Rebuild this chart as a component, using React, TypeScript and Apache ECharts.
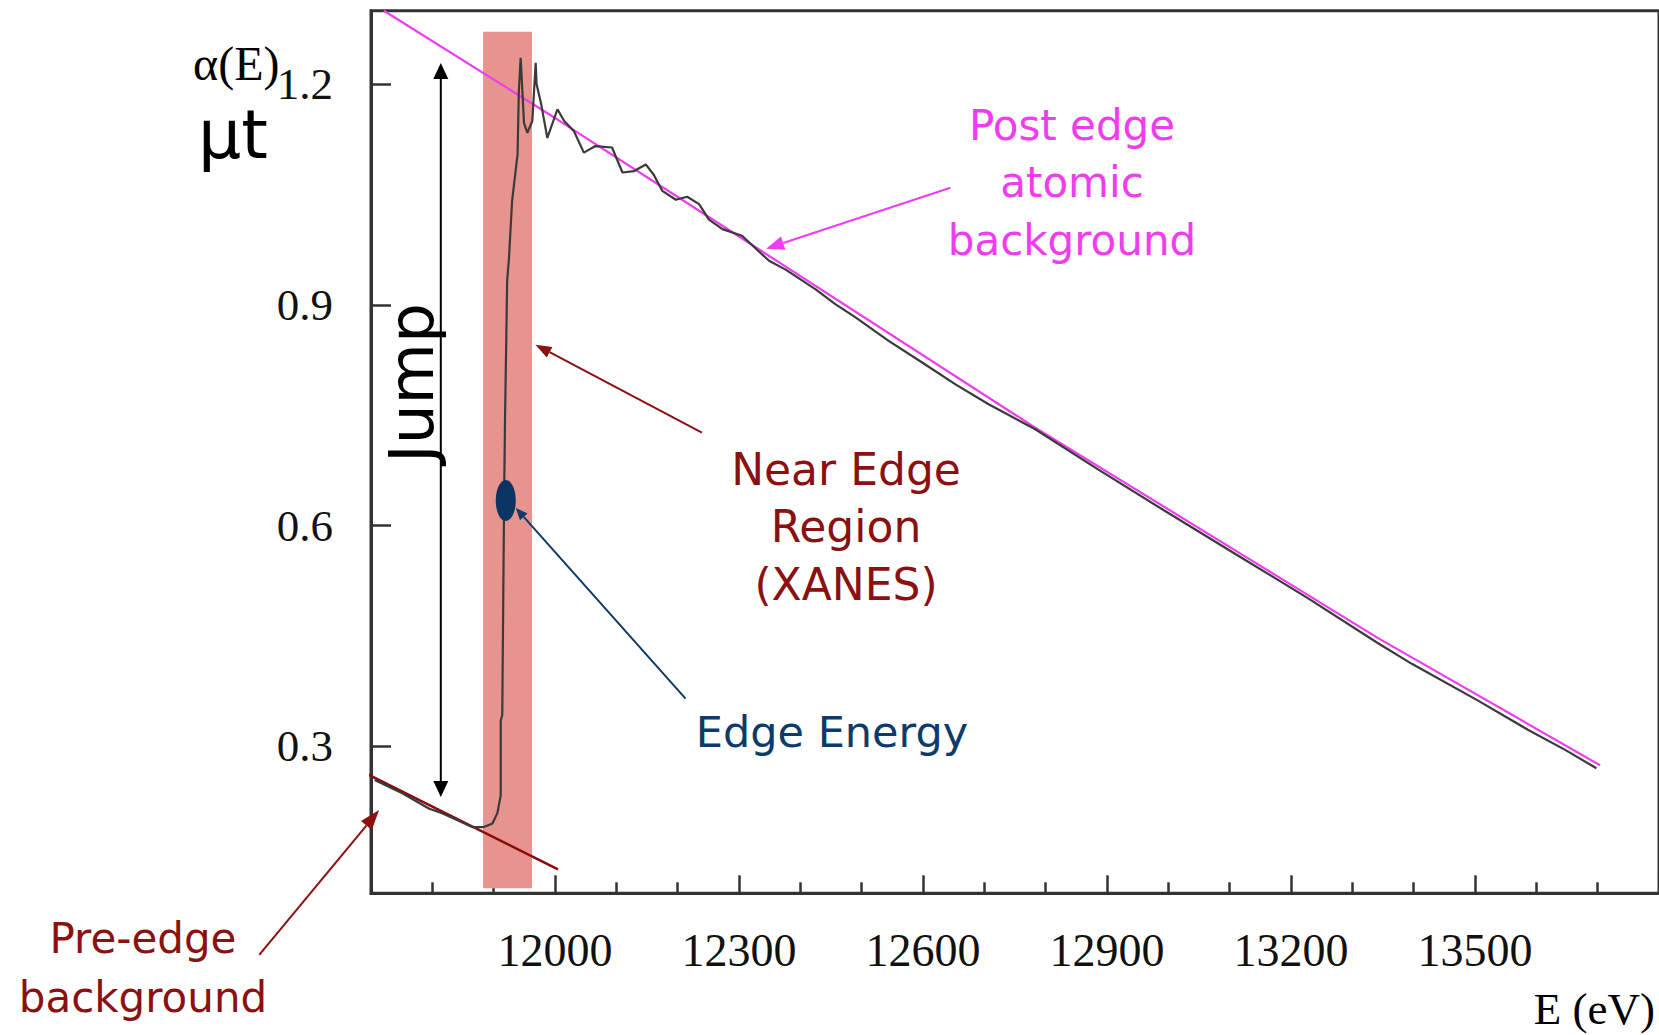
import React, { useEffect, useRef } from "react";
import * as echarts from "echarts";

// ---- measured spectrum (E in eV, mu*t) ----
const energy = [
  11706, 11751, 11795, 11816, 11865, 11884, 11898, 11906, 11911.5, 11911.5,
  11914, 11917, 11918.5, 11922, 11925, 11930, 11939, 11941, 11944, 11949.5,
  11955, 11963, 11968.5, 11970, 11977, 11987.5, 12004, 12015, 12031, 12047,
  12066, 12093, 12110, 12129, 12148, 12161, 12175, 12197, 12215.5, 12235,
  12251, 12273, 12305, 12332, 12349, 12376, 12425, 12457, 12490, 12544,
  12598, 12653, 12707, 12783, 12886, 13000, 13114, 13228, 13342, 13397,
  13505, 13587, 13647, 13698,
];
const absorption = [
  0.254, 0.236, 0.215, 0.209, 0.19, 0.19, 0.195, 0.209, 0.233, 0.335,
  0.342, 0.634, 0.743, 0.933, 0.964, 1.041, 1.105, 1.19, 1.236, 1.147,
  1.134, 1.15, 1.229, 1.2, 1.175, 1.127, 1.166, 1.15, 1.136, 1.107,
  1.116, 1.114, 1.08, 1.082, 1.091, 1.077, 1.055, 1.043, 1.047, 1.037,
  1.016, 1.003, 0.994, 0.973, 0.96, 0.948, 0.921, 0.901, 0.883, 0.851,
  0.822, 0.792, 0.765, 0.731, 0.676, 0.617, 0.559, 0.501, 0.44, 0.412,
  0.362, 0.322, 0.295, 0.27,
];

// ---- post-edge atomic background ----
const postEdgeEnergy = [11721, 12004, 12235, 12783, 13342, 13704];
const postEdgeMu = [1.3, 1.152, 1.028, 0.733, 0.447, 0.274];

// ---- pre-edge background line ----
const preEdgeEnergy = [11683.4, 12004.9];
const preEdgeMu = [0.2664, 0.1326];

// ---- XANES band ----
const xanesEnergy = [11882.7, 11962.5];
const xanesMu = [0.107, 1.2715];

// ---- edge energy marker ----
const edgeEnergyPoint = [11919.7, 0.634];

// ---- axis ticks ----
const xLabelValues = [12000, 12300, 12600, 12900, 13200, 13500];
const yLabelValues = [0.3, 0.6, 0.9, 1.2];

// ---- annotation arrows, in data coordinates [from, to] ----
const jumpArrow = [[11813.8, 0.2311], [11813.8, 1.2289]];
const postEdgeArrow = [[12644.7, 1.0592], [12344.2, 0.9764]];
const nearEdgeArrow = [[12239.5, 0.7262], [11968.1, 0.8458]];
const edgeEnergyArrow = [[12212.9, 0.3647], [11936.0, 0.624]];
const preEdgeArrow = [[11517.8, 0.0162], [11713.3, 0.2131]];

const HAND = "'Comic Sans MS', 'DejaVu Sans', sans-serif";
const SERIF = "'Liberation Serif', 'Times New Roman', serif";
const MAGENTA = "#f03cf0";
const DARKRED = "#8b1010";
const NAVY = "#0b3a6b";

function arrowEls(p1: number[], p2: number[], color: string, width: number, headLen: number, headW: number) {
  const dx = p2[0] - p1[0];
  const dy = p2[1] - p1[1];
  const L = Math.hypot(dx, dy);
  const ux = dx / L;
  const uy = dy / L;
  const bx = p2[0] - ux * headLen;
  const by = p2[1] - uy * headLen;
  const px = -uy;
  const py = ux;
  return [
    { type: "line", z: 100, silent: true, shape: { x1: p1[0], y1: p1[1], x2: bx, y2: by }, style: { stroke: color, lineWidth: width } },
    {
      type: "polygon",
      z: 100,
      silent: true,
      shape: {
        points: [
          [p2[0], p2[1]],
          [bx + (px * headW) / 2, by + (py * headW) / 2],
          [bx - (px * headW) / 2, by - (py * headW) / 2],
        ],
      },
      style: { fill: color },
    },
  ];
}

function headOnly(tip: number[], from: number[], color: string, headLen: number, headW: number) {
  const dx = tip[0] - from[0];
  const dy = tip[1] - from[1];
  const L = Math.hypot(dx, dy);
  const ux = dx / L;
  const uy = dy / L;
  const bx = tip[0] - ux * headLen;
  const by = tip[1] - uy * headLen;
  const px = -uy;
  const py = ux;
  return {
    type: "polygon",
    z: 100,
    silent: true,
    shape: {
      points: [
        [tip[0], tip[1]],
        [bx + (px * headW) / 2, by + (py * headW) / 2],
        [bx - (px * headW) / 2, by - (py * headW) / 2],
      ],
    },
    style: { fill: color },
  };
}

function txt(text: string, x: number, y: number, size: number, color: string, family: string, align = "center", rotation = 0) {
  return {
    type: "text",
    z: 100,
    silent: true,
    x,
    y,
    rotation,
    style: { text, fontSize: size, fontFamily: family, fill: color, align, verticalAlign: "middle" },
  };
}

export default function App() {
  const ref = useRef<HTMLDivElement>(null);
  useEffect(() => {
    if (!ref.current) return;
    const chart = echarts.init(ref.current, undefined, { renderer: "svg" });
    const axisColor = "#333";
    chart.setOption({
      animation: false,
      backgroundColor: "#ffffff",
      grid: {
        left: 371,
        top: 10.7,
        right: -1,
        bottom: 141.7,
        show: true,
        borderColor: axisColor,
        borderWidth: 3,
      },
      xAxis: {
        type: "value",
        min: 11700,
        max: 13800,
        interval: 300,
        axisLine: { show: true, onZero: false, lineStyle: { color: axisColor, width: 3 } },
        axisTick: { show: true, inside: true, length: 18, lineStyle: { color: axisColor, width: 2.5 } },
        minorTick: { show: true, splitNumber: 3, length: 11, lineStyle: { color: axisColor, width: 2.5 } },
        axisLabel: {
          customValues: xLabelValues,
          margin: 34,
          fontSize: 46,
          fontFamily: SERIF,
          color: "#111",
          formatter: (v: number) => String(Math.round(v)),
        },
        splitLine: { show: false },
        minorSplitLine: { show: false },
      },
      yAxis: {
        type: "value",
        min: 0.1,
        max: 1.3,
        axisLine: { show: true, onZero: false, lineStyle: { color: axisColor, width: 3 } },
        axisTick: { show: true, inside: true, length: 20, customValues: yLabelValues, lineStyle: { color: axisColor, width: 2.5 } },
        axisLabel: {
          customValues: yLabelValues,
          margin: 38,
          fontSize: 45,
          fontFamily: SERIF,
          color: "#111",
          formatter: (v: number) => v.toFixed(1),
        },
        splitLine: { show: false },
      },
      series: [
        {
          type: "line",
          name: "band",
          data: [],
          z: 1,
          markArea: {
            silent: true,
            itemStyle: { color: "#e8948e", opacity: 1 },
            data: [[{ coord: [xanesEnergy[0], xanesMu[0]] }, { coord: [xanesEnergy[1], xanesMu[1]] }]],
          },
        },
        {
          type: "line",
          name: "post-edge",
          showSymbol: false,
          z: 3,
          data: postEdgeEnergy.map((e, i) => [e, postEdgeMu[i]]),
          lineStyle: { color: MAGENTA, width: 2.2 },
        },
        {
          type: "line",
          name: "pre-edge",
          showSymbol: false,
          clip: false,
          z: 3,
          data: preEdgeEnergy.map((e, i) => [e, preEdgeMu[i]]),
          lineStyle: { color: "#8b0a0a", width: 2.5 },
        },
        {
          type: "line",
          name: "mu",
          showSymbol: false,
          z: 4,
          data: energy.map((e, i) => [e, absorption[i]]),
          lineStyle: { color: "#3a3a3a", width: 2.2 },
        },
      ],
    });

    const px = (p: number[]) => chart.convertToPixel({ gridIndex: 0 }, p) as number[];
    const j1 = px(jumpArrow[0]);
    const j2 = px(jumpArrow[1]);
    const ep = px(edgeEnergyPoint);
    const graphics: any[] = [
      // Jump double arrow
      { type: "line", z: 100, silent: true, shape: { x1: j1[0], y1: j1[1] - 15, x2: j2[0], y2: j2[1] + 15 }, style: { stroke: "#000", lineWidth: 2 } },
      headOnly(j2, j1, "#000", 16, 15),
      headOnly(j1, j2, "#000", 16, 15),
      ...arrowEls(px(postEdgeArrow[0]), px(postEdgeArrow[1]), MAGENTA, 2, 18, 14),
      ...arrowEls(px(nearEdgeArrow[0]), px(nearEdgeArrow[1]), DARKRED, 2, 16, 12),
      ...arrowEls(px(edgeEnergyArrow[0]), px(edgeEnergyArrow[1]), NAVY, 2, 12, 10),
      ...arrowEls(px(preEdgeArrow[0]), px(preEdgeArrow[1]), DARKRED, 2, 20, 14),
      { type: "ellipse", z: 101, silent: true, shape: { cx: ep[0], cy: ep[1], rx: 10, ry: 20.5 }, style: { fill: "#0a3563" } },
      // texts
      txt("Post edge", 1072, 125.5, 42, MAGENTA, HAND),
      txt("atomic", 1072, 182, 42, MAGENTA, HAND),
      txt("background", 1072, 240.5, 42, MAGENTA, HAND),
      txt("Near Edge", 846, 469.6, 44, DARKRED, HAND),
      txt("Region", 846, 526.3, 44, DARKRED, HAND),
      txt("(XANES)", 846, 584.6, 44, DARKRED, HAND),
      txt("Edge Energy", 832, 731.6, 43, NAVY, HAND),
      txt("Pre-edge", 143, 938.8, 42, DARKRED, HAND),
      txt("background", 143, 997.2, 42, DARKRED, HAND),
      txt("Jump", 411, 383, 63, "#000", HAND, "center", Math.PI / 2),
      txt("\u03bct", 198, 134, 68, "#000", HAND, "left"),
      txt("\u03b1(E)", 193, 63, 48, "#000", SERIF, "left"),
      txt("E (eV)", 1655, 1009, 45, "#000", SERIF, "right"),
    ];
    chart.setOption({ graphic: graphics });

    return () => chart.dispose();
  }, []);

  return (
    <div
      ref={ref}
      style={{ position: "absolute", left: 0, top: 0, width: 1659, height: 1035, background: "#fff" }}
    />
  );
}
